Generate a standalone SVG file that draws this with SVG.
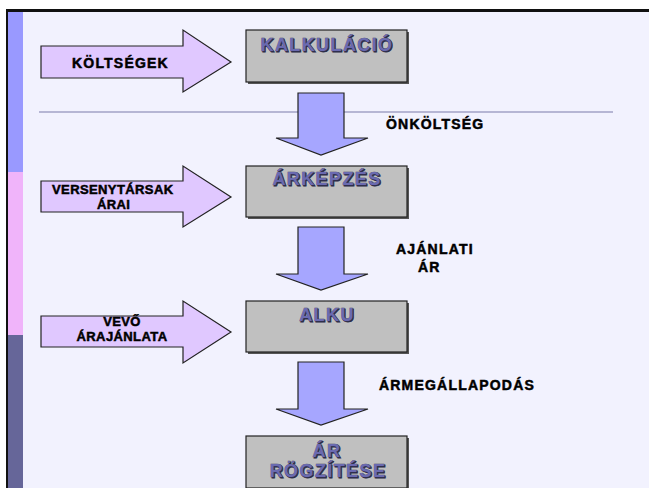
<svg xmlns="http://www.w3.org/2000/svg" width="649" height="488" viewBox="0 0 649 488">
<defs>
<style>
.lbl{font-family:"Liberation Sans",Arial,sans-serif;font-weight:bold;font-size:14px;fill:#000;stroke:#000;stroke-width:0.5px;letter-spacing:1.2px}
.sm{font-size:13px;letter-spacing:0.4px}
.ttl{font-family:"Liberation Sans",Arial,sans-serif;font-weight:bold;font-size:18px;letter-spacing:1.4px;text-anchor:middle}
.sh{fill:#2a2a44;stroke:#2a2a44;stroke-width:0.8px}
.fg{fill:#6a6ab0;stroke:#3a3a66;stroke-width:0.6px;paint-order:stroke}
.box{fill:#c0c0c0;stroke:#222;stroke-width:1.2}
.boxsh{fill:#555}
.rarr{fill:#e0c8ff;stroke:#222;stroke-width:1.2;stroke-linejoin:miter}
.darr{fill:#a6a6ff;stroke:#222;stroke-width:1.2}
</style>
</defs>
<rect x="0" y="0" width="649" height="488" fill="#ffffff"/>
<rect x="8" y="12" width="641" height="476" fill="#f2f2fe"/>
<rect x="8" y="12" width="15" height="160" fill="#9999ff"/>
<rect x="8" y="172" width="15" height="163" fill="#f0b4fa"/>
<rect x="8" y="335" width="15" height="153" fill="#666699"/>
<line x1="6" y1="10.5" x2="649" y2="10.5" stroke="#111" stroke-width="3"/>
<line x1="7" y1="9" x2="7" y2="488" stroke="#111" stroke-width="2"/>
<line x1="39" y1="112" x2="613" y2="112" stroke="#7a7aaa" stroke-width="1.2"/>

<g id="connectors">
<polygon class="darr" points="298,93 344,93 344,138 368,138 321,155 276,138 298,138"/>
<polygon class="darr" points="298,227 344,227 344,274 368,274 321,290 276,274 298,274"/>
<polygon class="darr" points="298,362 344,362 344,409 368,409 321,425 276,409 298,409"/>
</g>

<g id="koltsegek">
<polygon class="rarr" points="41,46 183,46 183,30 231,62 183,92 183,78 41,78"/>
<text class="lbl" x="72" y="68">KÖLTSÉGEK</text>
</g>
<g id="versenytarsak">
<polygon class="rarr" points="41,181 183,181 183,166 231,197 183,227 183,212 41,212"/>
<text class="lbl sm" x="52" y="194">VERSENYTÁRSAK</text>
<text class="lbl sm" x="97" y="209">ÁRAI</text>
</g>
<g id="vevo">
<polygon class="rarr" points="41,316 183,316 183,301 231,332 183,363 183,347 41,347"/>
<text class="lbl sm" x="122" y="326" text-anchor="middle">VEVŐ</text>
<text class="lbl sm" x="122" y="341" text-anchor="middle">ÁRAJÁNLATA</text>
</g>

<g id="kalkulacio">
<rect class="boxsh" x="248" y="32" width="161" height="52"/>
<rect class="box" x="246" y="30" width="161" height="52"/>
<text class="ttl sh" x="328" y="52">KALKULÁCIÓ</text>
<text class="ttl fg" x="327" y="51">KALKULÁCIÓ</text>
</g>
<g id="arkepzes">
<rect class="boxsh" x="248" y="168" width="161" height="51"/>
<rect class="box" x="246" y="166" width="161" height="51"/>
<text class="ttl sh" x="328" y="186">ÁRKÉPZÉS</text>
<text class="ttl fg" x="327" y="185">ÁRKÉPZÉS</text>
</g>
<g id="alku">
<rect class="boxsh" x="248" y="303" width="161" height="51"/>
<rect class="box" x="246" y="301" width="161" height="51"/>
<text class="ttl sh" x="328" y="322">ALKU</text>
<text class="ttl fg" x="327" y="321">ALKU</text>
</g>
<g id="ar-rogzitese">
<rect class="boxsh" x="248" y="438" width="161" height="52"/>
<rect class="box" x="246" y="436" width="161" height="52"/>
<text class="ttl sh" x="328" y="458">ÁR</text>
<text class="ttl fg" x="327" y="457">ÁR</text>
<text class="ttl sh" x="329" y="478">RÖGZÍTÉSE</text>
<text class="ttl fg" x="328" y="477">RÖGZÍTÉSE</text>
</g>

<g id="labels">
<text class="lbl" x="386" y="129">ÖNKÖLTSÉG</text>
<text class="lbl" x="396" y="254">AJÁNLATI</text>
<text class="lbl" x="418" y="272">ÁR</text>
<text class="lbl" x="379" y="390">ÁRMEGÁLLAPODÁS</text>
</g>
</svg>
